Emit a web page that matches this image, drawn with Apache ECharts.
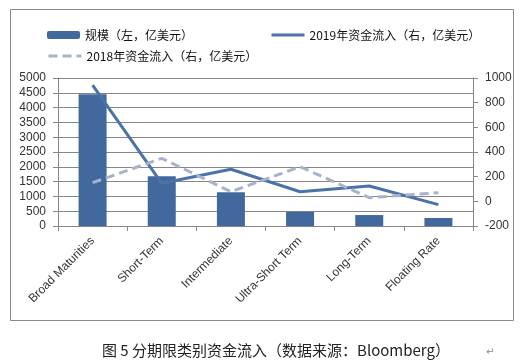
<!DOCTYPE html>
<html><head><meta charset="utf-8">
<script src="https://cdn.jsdelivr.net/npm/echarts@6/dist/echarts.min.js"></script>
<style>html,body{margin:0;padding:0;background:#fff}#c{width:532px;height:361px}</style>
</head><body><div id="c"></div>
<script>
const categories = ['Broad Maturities','Short-Term','Intermediate','Ultra-Short Term','Long-Term','Floating Rate'];
const scale = [4450, 1680, 1140, 480, 370, 270];
const flow2019 = [943, 146, 260, 78, 124, -27];
const flow2018 = [151, 349, 78, 281, 30, 70];
const leftTicks = {min: 0, max: 5000, interval: 500};
const rightTicks = {min: -200, max: 1000, interval: 200};
const names = ['规模（左，亿美元）','2019年资金流入（右，亿美元）','2018年资金流入（右，亿美元）'];
const caption = '图 5 分期限类别资金流入（数据来源：Bloomberg）';

const chart = echarts.init(document.getElementById('c'), null, {renderer:'canvas'});
const axisGray = '#868686';
const labelFont = {fontFamily:'Liberation Sans', fontSize:12, color:'#333'};
const plain = v => String(v);
const hideSym = {opacity:0};
chart.setOption({
  animation:false,
  backgroundColor:'#fff',
  legend:[
    {data:[{name:names[0]},{name:names[1], itemStyle:hideSym, lineStyle:{width:3}}], left:42, top:24, itemWidth:33, itemHeight:8, itemGap:77,
     textStyle:{fontFamily:'Noto Sans CJK SC', fontSize:12, color:'#111'}},
    {data:[{name:names[2], itemStyle:hideSym, lineStyle:{width:3}}], left:42, top:45, itemWidth:33, itemHeight:8,
     textStyle:{fontFamily:'Noto Sans CJK SC', fontSize:12, color:'#111'}}
  ],
  grid:{left:58, right:59, top:78, bottom:135},
  xAxis:{type:'category', data:categories, boundaryGap:true,
    axisLine:{lineStyle:{color:axisGray}},
    axisTick:{show:true, length:5, lineStyle:{color:axisGray}},
    axisLabel:Object.assign({rotate:45, margin:13, interval:0}, labelFont)},
  yAxis:[
    {type:'value', min:leftTicks.min, max:leftTicks.max, interval:leftTicks.interval,
     axisLine:{show:true, lineStyle:{color:axisGray}},
     axisTick:{show:true, length:5, lineStyle:{color:axisGray}},
     splitLine:{lineStyle:{color:axisGray, width:1}},
     axisLabel:Object.assign({margin:12, formatter:plain}, labelFont)},
    {type:'value', min:rightTicks.min, max:rightTicks.max, interval:rightTicks.interval, position:'right',
     axisLine:{show:true, lineStyle:{color:axisGray}},
     axisTick:{show:true, length:5, lineStyle:{color:axisGray}},
     splitLine:{show:false},
     axisLabel:Object.assign({margin:12, formatter:plain}, labelFont)}
  ],
  series:[
    {name:names[0], type:'bar', data:scale, barWidth:28, yAxisIndex:0, itemStyle:{color:'#41699E'}},
    {name:names[1], type:'line', data:flow2019, yAxisIndex:1, symbol:'none',
     lineStyle:{color:'#4A73A9', width:3}, itemStyle:{color:'#4A73A9'}},
    {name:names[2], type:'line', data:flow2018, yAxisIndex:1, symbol:'none',
     lineStyle:{color:'#A8B3CB', width:3, type:[9,5]}, itemStyle:{color:'#A8B3CB'}}
  ],
  graphic:[
    {type:'rect', shape:{x:10.5, y:9.5, width:503, height:311}, style:{fill:'none', stroke:'#8a8a8a', lineWidth:1}, silent:true, z:-1},
    {type:'text', left:102, top:343, style:{text:caption, fontFamily:'Noto Sans CJK SC', fontSize:15, fill:'#222'}},
    {type:'text', left:486, top:347, style:{text:'↵', fontFamily:'DejaVu Sans', fontSize:10, fill:'#888'}}
  ]
});
</script></body></html>
